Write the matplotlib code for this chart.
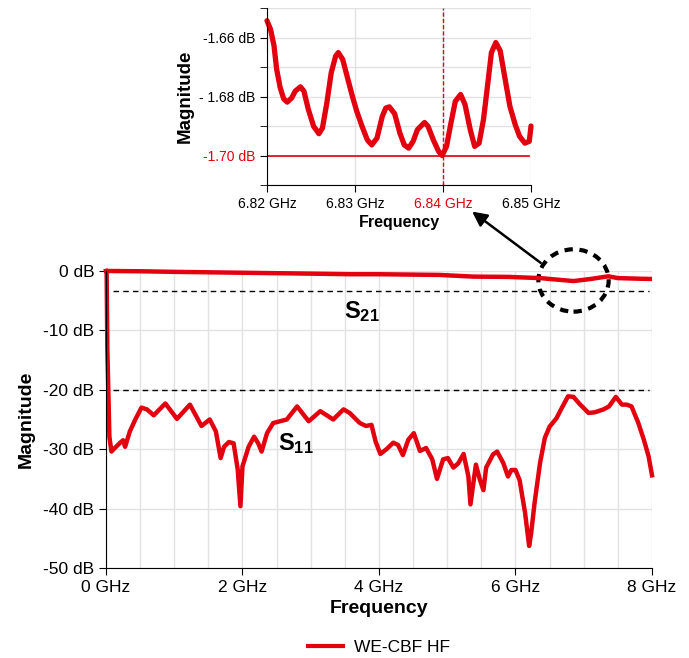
import matplotlib
matplotlib.use("Agg")
import matplotlib.pyplot as plt
from matplotlib.patches import Ellipse
from matplotlib.lines import Line2D

plt.rcParams['font.family'] = ['Liberation Sans', 'DejaVu Sans']
plt.rcParams['mathtext.fontset'] = 'custom'
plt.rcParams['mathtext.rm'] = 'Liberation Sans'
plt.rcParams['mathtext.bf'] = 'Liberation Sans:bold'

RED = '#e3000f'
GRID = '#e2e2e2'

# ---- main chart data ----
s11_freq = [0.0, 0.01, 0.02, 0.05, 0.08, 0.13, 0.2, 0.25, 0.28, 0.35, 0.43, 0.52, 0.6, 0.7, 0.87,
            1.04, 1.23, 1.4, 1.52, 1.61, 1.68, 1.73, 1.8, 1.87, 1.93, 1.97, 2.0, 2.09, 2.17,
            2.23, 2.28, 2.36, 2.45, 2.65, 2.8, 2.97, 3.14, 3.33, 3.48, 3.57, 3.72, 3.81, 3.89,
            3.95, 4.02, 4.11, 4.21, 4.28, 4.35, 4.43, 4.51, 4.6, 4.69, 4.78, 4.85, 4.94, 5.01,
            5.09, 5.16, 5.24, 5.31, 5.34, 5.42, 5.48, 5.53, 5.57, 5.67, 5.73, 5.82, 5.89, 5.94,
            6.0, 6.06, 6.14, 6.2, 6.23, 6.28, 6.36, 6.43, 6.5, 6.6, 6.69, 6.77, 6.85, 6.94,
            7.07, 7.16, 7.29, 7.37, 7.47, 7.56, 7.63, 7.7, 7.8, 7.88, 7.95, 8.0]
s11_db = [0.0, -0.5, -13.0, -27.9, -30.4, -29.8, -29.0, -28.5, -29.6, -27.0, -25.0, -23.0, -23.3, -24.3, -22.3,
          -24.9, -22.5, -26.1, -25.0, -27.0, -31.5, -29.6, -28.8, -29.0, -33.4, -39.6, -32.9, -29.6, -27.9,
          -29.0, -30.4, -27.3, -25.6, -25.0, -22.8, -25.3, -23.6, -25.0, -23.3, -23.9, -25.6, -26.1, -25.9,
          -28.7, -30.8, -30.0, -28.9, -29.3, -31.0, -28.4, -27.3, -30.3, -29.8, -31.7, -35.0, -31.7, -31.5,
          -33.1, -32.4, -30.8, -34.6, -39.3, -32.6, -35.2, -36.9, -33.1, -30.9, -30.4, -32.3, -34.6, -33.5,
          -33.5, -35.2, -40.7, -46.3, -44.1, -39.0, -32.3, -28.1, -26.2, -24.8, -22.8, -21.1, -21.2, -22.4,
          -23.9, -23.8, -23.3, -22.8, -21.2, -22.5, -22.5, -22.8, -25.6, -28.4, -31.2, -34.4]

s21_freq = [0.0, 0.5, 1.0, 2.0, 3.0, 3.58, 4.0, 4.89, 5.38, 5.9, 6.36, 6.6, 6.85, 7.1, 7.36, 7.5, 7.8, 8.0]
s21_db = [0.0, -0.05, -0.15, -0.3, -0.45, -0.55, -0.55, -0.67, -0.95, -1.0, -1.2, -1.45, -1.7, -1.35, -0.9, -1.2, -1.3, -1.35]

ref_levels = [-3.4, -20.0]

x_ticks = [0, 2, 4, 6, 8]
x_ticklabels = ['0 GHz', '2 GHz', '4 GHz', '6 GHz', '8 GHz']
y_ticks = [0, -10, -20, -30, -40, -50]
y_ticklabels = ['0 dB', '-10 dB', '-20 dB', '-30 dB', '-40 dB', '-50 dB']

# ---- inset data ----
zoom_freq = [6.8200, 6.8204, 6.8208, 6.8211, 6.8215, 6.8219, 6.8223, 6.8228, 6.8232, 6.8238, 6.8242,
             6.8247, 6.8253, 6.8259, 6.8263, 6.8268, 6.8273, 6.8278, 6.8281, 6.8286, 6.8291, 6.8297,
             6.8302, 6.8308, 6.8314, 6.8319, 6.8325, 6.8331, 6.8335, 6.8339, 6.8345, 6.8351, 6.8356,
             6.8361, 6.8366, 6.8371, 6.8379, 6.8383, 6.8389, 6.8395, 6.8399, 6.8404, 6.8409, 6.8414,
             6.8420, 6.8425, 6.8431, 6.8436, 6.8441, 6.8446, 6.8451, 6.8455, 6.8460, 6.8465, 6.8470,
             6.8476, 6.8482, 6.8487, 6.8493, 6.8498, 6.8500]
zoom_db = [-1.6543, -1.6572, -1.6628, -1.6708, -1.6770, -1.6808, -1.6819, -1.6805, -1.6782, -1.6767, -1.6782,
           -1.6844, -1.6901, -1.6926, -1.6907, -1.6822, -1.6719, -1.6663, -1.6651, -1.6674, -1.6731, -1.6799,
           -1.6850, -1.6901, -1.6947, -1.6964, -1.6941, -1.6867, -1.6839, -1.6835, -1.6858, -1.6924, -1.6964,
           -1.6975, -1.6952, -1.6912, -1.6888, -1.6901, -1.6947, -1.6986, -1.7000, -1.6969, -1.6890, -1.6816,
           -1.6793, -1.6827, -1.6913, -1.6969, -1.6958, -1.6878, -1.6753, -1.6651, -1.6617, -1.6645, -1.6731,
           -1.6833, -1.6895, -1.6935, -1.6958, -1.6952, -1.6900]
zoom_xticks = [6.82, 6.83, 6.84, 6.85]
zoom_xticklabels = ['6.82 GHz', '6.83 GHz', '6.84 GHz', '6.85 GHz']
zoom_yticks = [-1.66, -1.68, -1.70]
zoom_yticklabels = ['-1.66 dB', '- 1.68 dB', '-1.70 dB']
marker_freq = 6.84
marker_db = -1.70

fig = plt.figure(figsize=(6.89, 6.58), dpi=100)

# ---------------- main axes ----------------
ax = fig.add_axes([0.1538, 0.1368, 0.7925, 0.4514])
ax.set_xlim(0, 8)
ax.set_ylim(-50, 0)
ax.set_xticks(x_ticks)
ax.set_xticklabels(x_ticklabels)
ax.set_xticks([i * 0.5 for i in range(17)], minor=True)
ax.set_yticks(y_ticks)
ax.set_yticklabels(y_ticklabels)
ax.grid(True, which='both', axis='x', color=GRID, lw=1)
ax.grid(True, which='major', axis='y', color=GRID, lw=1)
ax.tick_params(axis='x', which='minor', length=0)
ax.tick_params(axis='both', which='major', labelsize=12.5, length=5, color='black')
for s in ['top', 'right']:
    ax.spines[s].set_visible(False)
ax.set_axisbelow(True)

for lvl in ref_levels:
    ax.plot([0.1, 7.95], [lvl, lvl], ls=(0, (4, 3)), color='black', lw=1)

ax.plot(s21_freq, s21_db, color=RED, lw=3.2, clip_on=False, solid_capstyle='butt')
ax.plot(s11_freq, s11_db, color=RED, lw=3.2, clip_on=False, solid_joinstyle='round')

ax.text(3.75, -6.9, r'$\mathbf{S_{21}}$', fontsize=17, ha='center', va='center')
ax.text(2.78, -29.1, r'$\mathbf{S_{11}}$', fontsize=17, ha='center', va='center')

ax.set_xlabel('Frequency', fontsize=14, fontweight='bold', labelpad=4)
ax.set_ylabel('Magnitude', fontsize=14, fontweight='bold', labelpad=6)

# dashed circle and arrow
circ = Ellipse((6.85, -1.6), 1.03, 10.5, fill=False, ec='black', lw=3, ls=(0, (2, 1.6)), clip_on=False)
ax.add_patch(circ)
ax.annotate('', xy=(0.682, 0.681), xycoords='figure fraction',
            xytext=(0.788, 0.598), textcoords='figure fraction',
            arrowprops=dict(arrowstyle='-|>', color='black', lw=1.8, mutation_scale=22))

# legend
leg_handle = Line2D([], [], color=RED, lw=3)
fig.legend([leg_handle], ['WE-CBF HF'], loc='center', bbox_to_anchor=(0.55, 0.016),
           frameon=False, fontsize=12.5, handlelength=2.0, handletextpad=0.6)

# ---------------- inset axes ----------------
ai = fig.add_axes([0.3875, 0.7188, 0.3832, 0.269])
ai.set_xlim(6.82, 6.85)
ai.set_ylim(-1.71, -1.65)
ai.set_xticks(zoom_xticks)
ai.set_xticklabels(zoom_xticklabels)
ai.set_yticks(zoom_yticks)
ai.set_yticklabels(zoom_yticklabels)
ai.set_yticks([-1.71, -1.69, -1.67, -1.65], minor=True)
ai.grid(True, which='both', color=GRID, lw=1)
ai.tick_params(axis='both', which='both', labelsize=10, length=5)
for s in ['top', 'right']:
    ai.spines[s].set_visible(False)
ai.set_axisbelow(True)
ai.get_xticklabels()[2].set_color(RED)
ai.get_yticklabels()[2].set_color(RED)

ai.plot([6.8201, 6.8498], [marker_db, marker_db], color=RED, lw=1.2)
ai.axvline(marker_freq, color=RED, lw=1, ls=(0, (3, 1.5)))
ai.plot(zoom_freq, zoom_db, color=RED, lw=3.8, solid_joinstyle='round', solid_capstyle='round', clip_on=False)

ai.set_xlabel('Frequency', fontsize=11.5, fontweight='bold', labelpad=3)
ai.set_ylabel('Magnitude', fontsize=13.5, fontweight='bold', labelpad=4)

fig.savefig('out.png', dpi=100)
